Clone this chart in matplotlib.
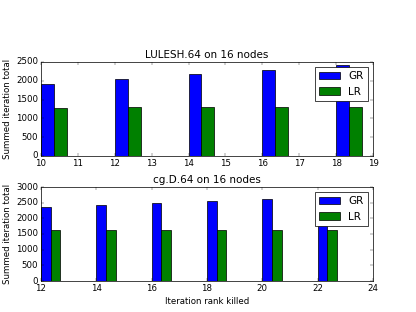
import matplotlib
matplotlib.use("Agg")
import matplotlib.pyplot as plt
import numpy as np

plt.style.use('classic')

lulesh_ranks = [10, 12, 14, 16, 18]
lulesh_gr = [1920, 2050, 2180, 2300, 2430]
lulesh_lr = [1285, 1292, 1298, 1300, 1300]

cg_ranks = [12, 14, 16, 18, 20, 22]
cg_gr = [2370, 2435, 2500, 2563, 2627, 2690]
cg_lr = [1617, 1617, 1617, 1617, 1617, 1617]

width = 0.35
fig = plt.figure(figsize=(8, 6), dpi=52)
fig.patch.set_facecolor('white')
ax1 = fig.add_axes([41/416, 1-156/312, 332/416, 94/312])
ax2 = fig.add_axes([41/416, 1-281/312, 332/416, 94/312])

x1 = np.array(lulesh_ranks, dtype=float)
ax1.bar(x1, lulesh_gr, width, color='b', align='edge', label='GR')
ax1.bar(x1 + width, lulesh_lr, width, color='g', align='edge', label='LR')
ax1.set_xlim(10, 19)
ax1.set_ylim(0, 2500)
ax1.set_yticks([0, 500, 1000, 1500, 2000, 2500])
ax1.set_title('LULESH.64 on 16 nodes')
ax1.set_ylabel('Summed iteration total')
ax1.legend(loc='upper right')

x2 = np.array(cg_ranks, dtype=float)
ax2.bar(x2, cg_gr, width, color='b', align='edge', label='GR')
ax2.bar(x2 + width, cg_lr, width, color='g', align='edge', label='LR')
ax2.set_xlim(12, 24)
ax2.set_ylim(0, 3000)
ax2.set_title('cg.D.64 on 16 nodes')
ax2.set_ylabel('Summed iteration total')
ax2.set_xlabel('Iteration rank killed')
ax2.legend(loc='upper right')

fig.savefig('out.png', dpi=52, facecolor='white')
